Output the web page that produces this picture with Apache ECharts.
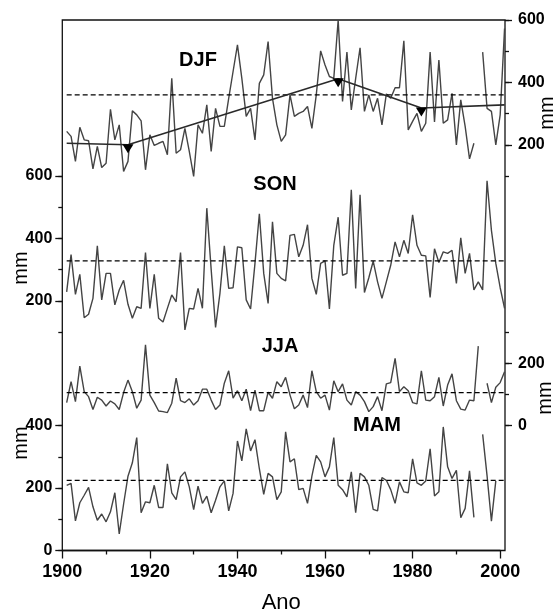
<!DOCTYPE html>
<html><head><meta charset="utf-8">
<script src="https://cdn.jsdelivr.net/npm/echarts@6/dist/echarts.min.js"></script>
<style>html,body{margin:0;padding:0;background:#fff}#c{width:555px;height:613px}</style>
</head><body><div id="c"></div>
<script>
// ---------------- data ----------------
const firstYear = 1901;               // each series runs 1901..2001
const djf = [243,227,147,256,216,213,123,195,127,141,
             314,216,264,115,147,309,296,277,120,232,
             198,205,211,168,413,173,184,253,179,99,
             264,237,328,179,317,259,259,349,435,520,
             413,291,317,216,397,424,531,349,264,211,
             232,360,291,301,307,323,253,360,501,456,
             419,413,600,339,497,312,413,511,307,360,
             307,349,264,363,349,383,383,533,248,275,
             301,243,269,497,273,472,269,280,365,200,
             344,259,155,205,null,497,317,307,200,296,
             573];
const son = [229,348,221,285,146,157,208,376,203,288,
             288,187,235,266,189,144,181,176,355,176,
             285,144,132,176,219,197,355,107,176,174,
             240,176,497,300,115,224,376,240,242,373,
             370,203,174,320,479,288,192,453,288,272,
             264,410,413,341,378,444,272,221,320,328,
             174,378,468,282,288,556,240,540,227,274,
             327,261,208,261,314,389,341,394,352,476,
             378,346,344,211,367,323,357,352,362,256,
             402,288,352,235,261,235,585,426,320,242,
             176];
const jja = [74,141,77,191,109,93,52,91,82,63,
             79,70,52,106,146,109,56,82,259,98,
             74,47,45,42,72,152,80,74,86,66,
             80,117,117,82,52,66,136,176,88,112,
             80,117,48,114,48,48,107,88,141,125,
             155,98,54,66,98,58,176,109,88,98,
             50,144,109,134,82,66,109,98,77,45,
             61,93,48,134,138,216,109,125,112,74,
             70,176,82,80,93,155,63,130,166,80,
             53,50,82,80,255,null,136,74,123,138,
             173];
const mam = [209,215,95,153,177,202,140,97,117,92,
             124,185,53,149,238,281,362,121,156,153,
             209,138,138,278,185,163,236,252,204,131,
             206,151,174,121,161,204,223,127,183,351,
             287,390,319,355,262,180,247,236,163,188,
             380,284,294,195,199,151,238,305,284,236,
             268,362,209,195,172,252,121,247,236,209,
             132,127,234,225,195,151,220,188,185,294,
             217,209,223,326,175,188,396,268,231,257,
             105,135,255,106,null,372,240,94,223,null,
             null];
const djfTrendYears  = [1901, 1915, 1963, 1982, 2001];
const djfTrendValues = [205, 200, 412, 318, 328];
const meanYears = [1901, 2001];
const djfMean = 360, sonMean = 328, jjaMean = 106, mamMean = 225;
const panelNames = ['DJF', 'SON', 'JJA', 'MAM'];
const axisTitleX = 'Ano', axisTitleY = 'mm';

// ---------------- layout ----------------
const PLOT_L = 62.3, PLOT_T = 20, PLOT_W = 442.7, PLOT_H = 530.5;
const X_MIN = 1900, X_MAX = 2001.1, STACK_MAX = 1700;
const K = PLOT_H / STACK_MAX;
const FONT = '"Liberation Sans", Arial, Helvetica, sans-serif';
const offsets = { DJF: 1100, SON: 600, JJA: 400, MAM: 0 };

const years = djf.map((_, i) => firstYear + i);
const toXY = arr => arr.map((v, i) => [years[i], v == null ? '-' : v]);

const grids = [], xAxes = [], yAxes = [], series = [];
const gridBase = { containLabel: false, outerBoundsMode: 'none' };

// main grid: frame + data
grids.push(Object.assign({ left: PLOT_L, top: PLOT_T, width: PLOT_W, height: PLOT_H, show: true,
  borderColor: '#111', borderWidth: 1.3, backgroundColor: 'rgba(0,0,0,0)' }, gridBase));
xAxes.push({ gridIndex: 0, type: 'value', min: X_MIN, max: X_MAX, show: false });
const panelAxis = {};
panelNames.forEach(n => {
  yAxes.push({ gridIndex: 0, type: 'value', min: -offsets[n], max: STACK_MAX - offsets[n], show: false });
  panelAxis[n] = yAxes.length - 1;
});

// visible x axis (1900..2000)
grids.push(Object.assign({ left: PLOT_L, top: PLOT_T, width: PLOT_W * 100 / (X_MAX - X_MIN),
  height: PLOT_H, show: false }, gridBase));
xAxes.push({ gridIndex: 1, type: 'value', min: 1900, max: 2000, interval: 20, position: 'bottom',
  axisLine: { show: true, lineStyle: { color: '#111', width: 1.3 } },
  axisTick: { show: true, length: 8, lineStyle: { color: '#111', width: 1.3 } },
  minorTick: { show: true, splitNumber: 2, length: 4, lineStyle: { color: '#111', width: 1.3 } },
  splitLine: { show: false }, minorSplitLine: { show: false },
  axisLabel: { fontSize: 18, fontWeight: 'bold', color: '#000', fontFamily: FONT, margin: 13,
    formatter: v => String(v) },
  name: axisTitleX, nameLocation: 'middle', nameGap: 41,
  nameTextStyle: { fontSize: 22, color: '#000', fontFamily: FONT } });
yAxes.push({ gridIndex: 1, type: 'value', min: 0, max: 1, show: false });

// y tick segments
function addSeg(off, lo, hi, interval, tickLen, labels, side) {
  const top = PLOT_T + PLOT_H - K * (off + hi);
  grids.push(Object.assign({ left: PLOT_L, top: top, width: PLOT_W, height: K * (hi - lo), show: false }, gridBase));
  const g = grids.length - 1;
  xAxes.push({ gridIndex: g, type: 'value', min: X_MIN, max: X_MAX, show: false });
  yAxes.push({ gridIndex: g, type: 'value', position: side, min: lo, max: hi, interval: interval,
    axisLine: { show: false },
    axisTick: { show: true, length: tickLen, lineStyle: { color: '#111', width: 1.3 } },
    splitLine: { show: false },
    axisLabel: { show: labels, fontSize: 16, fontWeight: 'bold', color: '#000', fontFamily: FONT,
      margin: side === 'left' ? 10 : 13, formatter: v => String(v) } });
}
// DJF right
addSeg(offsets.DJF, 100, 600, 100, 4, false, 'right');
addSeg(offsets.DJF, 200, 600, 200, 7, true, 'right');
// SON left
addSeg(offsets.SON, 100, 600, 100, 4, false, 'left');
addSeg(offsets.SON, 200, 600, 200, 7, true, 'left');
// JJA right
addSeg(offsets.JJA, 0, 300, 100, 4, false, 'right');
addSeg(offsets.JJA, 0, 200, 200, 7, true, 'right');
// MAM left
addSeg(offsets.MAM, 0, 400, 100, 4, false, 'left');
addSeg(offsets.MAM, 0, 400, 200, 7, true, 'left');

// series
const dataLine = { color: '#444', width: 1.4 };
const meanLine = { color: '#000', width: 1.2, type: [5, 3] };
function addPanel(name, values, mean) {
  series.push({ type: 'line', xAxisIndex: 0, yAxisIndex: panelAxis[name], data: toXY(values),
    symbol: 'none', connectNulls: false, lineStyle: dataLine, z: 2 });
  series.push({ type: 'line', xAxisIndex: 0, yAxisIndex: panelAxis[name],
    data: meanYears.map(y => [y, mean]), symbol: 'none', lineStyle: meanLine, z: 3 });
}
addPanel('DJF', djf, djfMean);
addPanel('SON', son, sonMean);
addPanel('JJA', jja, jjaMean);
addPanel('MAM', mam, mamMean);
series.push({ type: 'line', xAxisIndex: 0, yAxisIndex: panelAxis.DJF,
  data: djfTrendYears.map((y, i) => ({ value: [y, djfTrendValues[i]],
    symbol: (i === 0 || i === djfTrendYears.length - 1) ? 'none' : 'triangle' })),
  showSymbol: true, showAllSymbol: true, symbolSize: [11, 9], symbolRotate: 180, symbolOffset: [0, 4],
  itemStyle: { color: '#000' }, lineStyle: { color: '#2a2a2a', width: 1.6 }, z: 4 });

// texts
const label = (t, x, y) => ({ type: 'text', x: x, y: y, z: 10,
  style: { text: t, fill: '#000', font: 'bold 20px ' + FONT, align: 'center', verticalAlign: 'middle' } });
const mm = (x, y) => ({ type: 'text', x: x, y: y, rotation: Math.PI / 2, z: 10,
  style: { text: axisTitleY, fill: '#000', font: '20px ' + FONT, align: 'center', verticalAlign: 'middle' } });

const chart = echarts.init(document.getElementById('c'), null, { renderer: 'canvas' });
chart.setOption({
  animation: false,
  backgroundColor: '#fff',
  grid: grids, xAxis: xAxes, yAxis: yAxes, series: series,
  graphic: [
    label(panelNames[0], 198, 60), label(panelNames[1], 275, 184),
    label(panelNames[2], 280, 346), label(panelNames[3], 377, 425),
    mm(547, 113), mm(545, 398), mm(21, 268), mm(21, 443)
  ]
});
</script></body></html>
